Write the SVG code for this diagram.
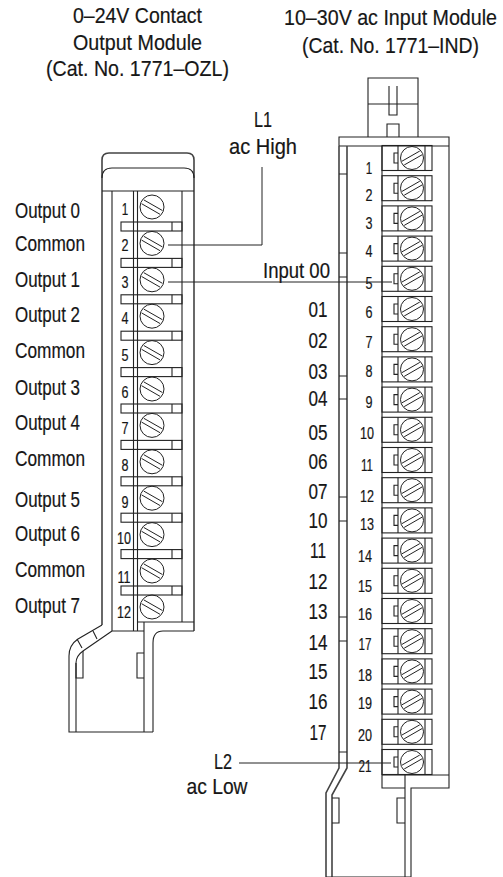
<svg xmlns="http://www.w3.org/2000/svg" width="503" height="877" viewBox="0 0 503 877">
<style>
.l{fill:none;stroke:#222;stroke-width:1.1}
.r{fill:none;stroke:#444;stroke-width:1.6}
.s{fill:none;stroke:#222;stroke-width:1}
.w{fill:none;stroke:#222;stroke-width:1}
text{font-family:"Liberation Sans",Arial,sans-serif;fill:#161616;font-size:21.5px;text-anchor:middle;stroke:#161616;stroke-width:.2}
.n{font-size:16px}
.a{text-anchor:start}
</style>
<defs>
<g id="lt">
<rect class="l" x="-31" y="15" width="61" height="9"/>
<path class="l" d="M20 15V24"/>
<circle class="s" r="12"/>
<path class="s" d="M-10.4-3.3 8 7.3M-8.2-7.1 10.4 3.5"/>
</g>
<g id="rt">
<rect class="l" x="-30" y="-12.5" width="50" height="25"/>
<path class="l" d="M-14-12.5V12.5M13-12.5V12.5M-14-5H-18V5H-14"/>
<circle class="s" r="11.5"/>
<path class="s" d="M-10 3.2 7.8 -7M-7.8 7 10 -3.2"/>
</g>
</defs>

<rect width="503" height="877" fill="#fff"/>

<g id="titles">
<text x="137.5" y="23" textLength="129" lengthAdjust="spacingAndGlyphs">0–24V Contact</text>
<text x="137.5" y="50" textLength="129" lengthAdjust="spacingAndGlyphs">Output Module</text>
<text x="137.5" y="76" textLength="183" lengthAdjust="spacingAndGlyphs">(Cat. No. 1771–OZL)</text>
<text x="390.5" y="25" textLength="213" lengthAdjust="spacingAndGlyphs">10–30V ac Input Module</text>
<text x="390.5" y="53" textLength="177" lengthAdjust="spacingAndGlyphs">(Cat. No. 1771–IND)</text>
</g>

<g id="output-module">
<path class="r" d="M102 625V160Q102 153 109 153H187Q194 153 194 160V631"/>
<path class="l" d="M102 178Q102 168 112 168H184Q194 168 194 178M102 191H194"/>
<path class="l" d="M112 191V631M133.5 191V631M137.5 191V631M182 191V622"/>
<use href="#lt" x="152" y="207"/>
<use href="#lt" x="152" y="243.4"/>
<use href="#lt" x="152" y="279.8"/>
<use href="#lt" x="152" y="316.2"/>
<use href="#lt" x="152" y="352.6"/>
<use href="#lt" x="152" y="389"/>
<use href="#lt" x="152" y="425.4"/>
<use href="#lt" x="152" y="461.8"/>
<use href="#lt" x="152" y="498.2"/>
<use href="#lt" x="152" y="534.6"/>
<use href="#lt" x="152" y="571"/>
<g transform="translate(152 607)"><circle class="s" r="12"/><path class="s" d="M-10.4-3.3 8 7.3M-8.2-7.1 10.4 3.5"/></g>
<path class="l" d="M102 625 78 639Q69 645 69 656V732H153M112 631 83 651Q76 656 76 663V732M112 631H144M137.5 622H194M194 631H163Q153 631 153 643V732M144 622V732"/>
<path class="l" d="M76 663V678H83V651M144 653H137V678H144M77 639 82 648M93 631 97 639"/>
<g id="output-terminals">
<text class="n" x="125" y="215" textLength="6.5" lengthAdjust="spacingAndGlyphs">1</text>
<text class="n" x="125" y="251" textLength="7" lengthAdjust="spacingAndGlyphs">2</text>
<text class="n" x="125" y="288" textLength="7" lengthAdjust="spacingAndGlyphs">3</text>
<text class="n" x="125" y="324" textLength="7" lengthAdjust="spacingAndGlyphs">4</text>
<text class="n" x="125" y="361" textLength="7" lengthAdjust="spacingAndGlyphs">5</text>
<text class="n" x="125" y="398" textLength="7" lengthAdjust="spacingAndGlyphs">6</text>
<text class="n" x="125" y="434" textLength="7" lengthAdjust="spacingAndGlyphs">7</text>
<text class="n" x="125" y="471" textLength="7" lengthAdjust="spacingAndGlyphs">8</text>
<text class="n" x="125" y="508" textLength="7" lengthAdjust="spacingAndGlyphs">9</text>
<text class="n" x="124" y="544" textLength="14" lengthAdjust="spacingAndGlyphs">10</text>
<text class="n" x="124" y="583" textLength="13" lengthAdjust="spacingAndGlyphs">11</text>
<text class="n" x="124" y="618" textLength="14" lengthAdjust="spacingAndGlyphs">12</text>
</g>
</g>

<g id="output-labels">
<text class="a" x="15" y="218" textLength="65" lengthAdjust="spacingAndGlyphs">Output 0</text>
<text class="a" x="15" y="251" textLength="70" lengthAdjust="spacingAndGlyphs">Common</text>
<text class="a" x="15" y="287" textLength="65" lengthAdjust="spacingAndGlyphs">Output 1</text>
<text class="a" x="15" y="322" textLength="65" lengthAdjust="spacingAndGlyphs">Output 2</text>
<text class="a" x="15" y="358" textLength="70" lengthAdjust="spacingAndGlyphs">Common</text>
<text class="a" x="15" y="395" textLength="65" lengthAdjust="spacingAndGlyphs">Output 3</text>
<text class="a" x="15" y="430" textLength="65" lengthAdjust="spacingAndGlyphs">Output 4</text>
<text class="a" x="15" y="466" textLength="70" lengthAdjust="spacingAndGlyphs">Common</text>
<text class="a" x="15" y="507" textLength="65" lengthAdjust="spacingAndGlyphs">Output 5</text>
<text class="a" x="15" y="541" textLength="65" lengthAdjust="spacingAndGlyphs">Output 6</text>
<text class="a" x="15" y="577" textLength="70" lengthAdjust="spacingAndGlyphs">Common</text>
<text class="a" x="15" y="613" textLength="65" lengthAdjust="spacingAndGlyphs">Output 7</text>
</g>

<g id="input-module">
<path class="l" d="M368 137V78H418V137M368 104H418M389 86V115H397V86M387 137V124H399V137"/>
<path class="l" d="M339 146V137H449V788H411V877M339 146H449"/>
<path class="r" d="M339 146V768L326 793V877M347 146V768L332 795V877"/>
<path class="l" d="M382 146V788H405M382 775H449M405 775V877M326 877H411"/>
<path class="l" d="M339 174H347M339 253H347M339 277H347M339 376H347M339 399H347M339 497H347M339 521H347M339 617H347M339 641H347M339 752H347"/>
<path class="l" d="M332 798H339V823H332M405 798H397V823H405"/>
<use href="#rt" x="412" y="158"/>
<use href="#rt" x="412" y="188.2"/>
<use href="#rt" x="412" y="218.4"/>
<use href="#rt" x="412" y="248.6"/>
<use href="#rt" x="412" y="278.8"/>
<use href="#rt" x="412" y="309"/>
<use href="#rt" x="412" y="339.2"/>
<use href="#rt" x="412" y="369.4"/>
<use href="#rt" x="412" y="399.6"/>
<use href="#rt" x="412" y="429.8"/>
<use href="#rt" x="412" y="460"/>
<use href="#rt" x="412" y="490.2"/>
<use href="#rt" x="412" y="520.4"/>
<use href="#rt" x="412" y="550.6"/>
<use href="#rt" x="412" y="580.8"/>
<use href="#rt" x="412" y="611"/>
<use href="#rt" x="412" y="641.2"/>
<use href="#rt" x="412" y="671.4"/>
<use href="#rt" x="412" y="701.6"/>
<use href="#rt" x="412" y="731.8"/>
<use href="#rt" x="412" y="762"/>
<g id="input-terminals">
<text class="n" x="369" y="174" textLength="6.5" lengthAdjust="spacingAndGlyphs">1</text>
<text class="n" x="369" y="201" textLength="7" lengthAdjust="spacingAndGlyphs">2</text>
<text class="n" x="369" y="229" textLength="7" lengthAdjust="spacingAndGlyphs">3</text>
<text class="n" x="369" y="257" textLength="7" lengthAdjust="spacingAndGlyphs">4</text>
<text class="n" x="369" y="289" textLength="7" lengthAdjust="spacingAndGlyphs">5</text>
<text class="n" x="369" y="318" textLength="7" lengthAdjust="spacingAndGlyphs">6</text>
<text class="n" x="369" y="348" textLength="7" lengthAdjust="spacingAndGlyphs">7</text>
<text class="n" x="369" y="377" textLength="7" lengthAdjust="spacingAndGlyphs">8</text>
<text class="n" x="369" y="408" textLength="7" lengthAdjust="spacingAndGlyphs">9</text>
<text class="n" x="367" y="439" textLength="14" lengthAdjust="spacingAndGlyphs">10</text>
<text class="n" x="367" y="471" textLength="12" lengthAdjust="spacingAndGlyphs">11</text>
<text class="n" x="367" y="502" textLength="14" lengthAdjust="spacingAndGlyphs">12</text>
<text class="n" x="367" y="530" textLength="14" lengthAdjust="spacingAndGlyphs">13</text>
<text class="n" x="365" y="562" textLength="14" lengthAdjust="spacingAndGlyphs">14</text>
<text class="n" x="365" y="592" textLength="14" lengthAdjust="spacingAndGlyphs">15</text>
<text class="n" x="365" y="620" textLength="14" lengthAdjust="spacingAndGlyphs">16</text>
<text class="n" x="365" y="650" textLength="13" lengthAdjust="spacingAndGlyphs">17</text>
<text class="n" x="365" y="681" textLength="14" lengthAdjust="spacingAndGlyphs">18</text>
<text class="n" x="365" y="709" textLength="14" lengthAdjust="spacingAndGlyphs">19</text>
<text class="n" x="365" y="741" textLength="14" lengthAdjust="spacingAndGlyphs">20</text>
<text class="n" x="365" y="772" textLength="13" lengthAdjust="spacingAndGlyphs">21</text>
</g>
</g>

<g id="input-labels">
<text x="296.5" y="278" textLength="67" lengthAdjust="spacingAndGlyphs">Input 00</text>
<text x="318" y="317" textLength="19" lengthAdjust="spacingAndGlyphs">01</text>
<text x="318" y="348" textLength="19" lengthAdjust="spacingAndGlyphs">02</text>
<text x="318" y="379" textLength="19" lengthAdjust="spacingAndGlyphs">03</text>
<text x="318" y="406" textLength="19" lengthAdjust="spacingAndGlyphs">04</text>
<text x="318" y="440" textLength="19" lengthAdjust="spacingAndGlyphs">05</text>
<text x="318" y="469" textLength="19" lengthAdjust="spacingAndGlyphs">06</text>
<text x="318" y="499" textLength="19" lengthAdjust="spacingAndGlyphs">07</text>
<text x="318" y="528" textLength="19" lengthAdjust="spacingAndGlyphs">10</text>
<text x="318" y="558" textLength="16" lengthAdjust="spacingAndGlyphs">11</text>
<text x="318" y="589" textLength="19" lengthAdjust="spacingAndGlyphs">12</text>
<text x="318" y="619" textLength="19" lengthAdjust="spacingAndGlyphs">13</text>
<text x="318" y="650" textLength="19" lengthAdjust="spacingAndGlyphs">14</text>
<text x="318" y="679" textLength="19" lengthAdjust="spacingAndGlyphs">15</text>
<text x="318" y="709" textLength="19" lengthAdjust="spacingAndGlyphs">16</text>
<text x="318" y="740" textLength="17" lengthAdjust="spacingAndGlyphs">17</text>
</g>

<g id="power-labels">
<text x="263" y="127" textLength="18" lengthAdjust="spacingAndGlyphs">L1</text>
<text x="263" y="154" textLength="68" lengthAdjust="spacingAndGlyphs">ac High</text>
<text x="223" y="769" textLength="18" lengthAdjust="spacingAndGlyphs">L2</text>
<text x="217" y="794" textLength="61" lengthAdjust="spacingAndGlyphs">ac Low</text>
</g>

<g id="connectors">
<path class="w" d="M168 245H262V167"/>
<path class="w" d="M168 282H392"/>
<path class="w" d="M239 763H391"/>
</g>
</svg>
